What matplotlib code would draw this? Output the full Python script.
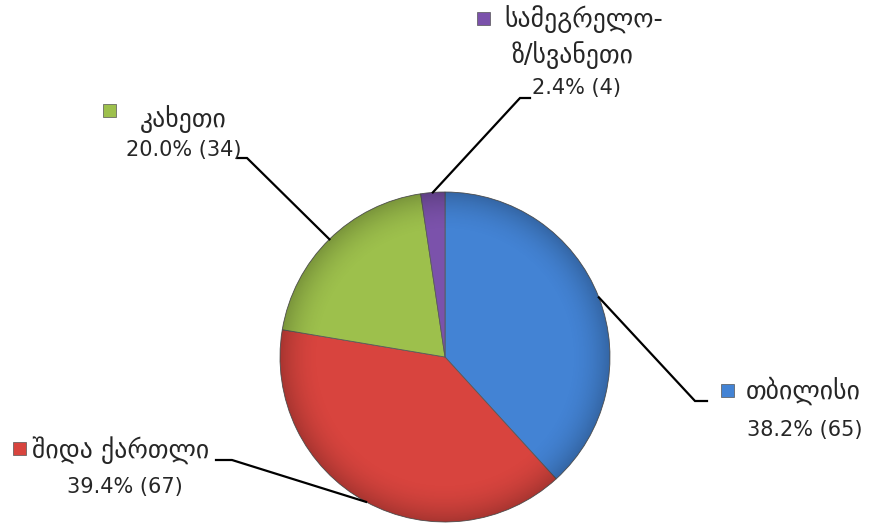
import matplotlib.pyplot as plt
from matplotlib.patches import Rectangle, Circle
import numpy as np

# data
names = ['თბილისი', 'შიდა ქართლი', 'კახეთი', 'სამეგრელო-\nზ/სვანეთი']
counts = [65, 67, 34, 4]
colors = ['#4383D4', '#D8443E', '#9DC04C', '#7B52AB']

W, H = 871, 523
cx, cy, R = 445, 357, 165   # pie centre / radius in pixels (from top)

# label layout (pixels from top): square, name lines, pct line, leader elbow and end
squares = [(727, 390), (19, 448), (109, 110), (483, 18)]
name_pos = [[(746, 391, 'left')], [(32, 451, 'left')], [(183, 119, 'center')],
            [(504, 20, 'left'), (573, 55, 'center')]]
pct_pos = [(805, 430), (125, 487), (184, 150), (576, 88)]
elbows = [(695, 401), (232, 460), (247, 158), (520, 98)]
ends = [(707, 401), (216, 460), (237, 158), (530, 98)]

fs = 15
fs_name = 18.5
txtc = '#262626'

fig = plt.figure(figsize=(W / 100, H / 100), dpi=100)
ax = fig.add_axes([0, 0, 1, 1])

wedges, _ = ax.pie(counts, colors=colors, startangle=90, counterclock=False,
                   center=(cx, H - cy), radius=R,
                   wedgeprops=dict(edgecolor='#5a5a5a', linewidth=0.6))

# soft shading: darker rim, lighter middle
n = 400
gx, gy = np.meshgrid(np.linspace(-1, 1, n), np.linspace(-1, 1, n))
rr = np.sqrt(gx ** 2 + gy ** 2)
shade = np.zeros((n, n, 4))
shade[..., 3] = np.clip((rr - 0.75) / 0.25, 0, 1) ** 2 * 0.22
im = ax.imshow(shade, extent=(cx - R, cx + R, H - cy - R, H - cy + R), zorder=3,
               interpolation='bilinear')
im.set_clip_path(Circle((cx, H - cy), R, transform=ax.transData))

total = sum(counts)
for i, w in enumerate(wedges):
    th = np.deg2rad((w.theta1 + w.theta2) / 2)
    px, py = cx + R * np.cos(th), (H - cy) + R * np.sin(th)
    ex, ey = elbows[i]
    nx, ny = ends[i]
    ax.plot([px, ex, nx], [py, H - ey, H - ny], color='black', lw=1.6,
            solid_joinstyle='miter', zorder=1)
    sx, sy = squares[i]
    ax.add_patch(Rectangle((sx - 6.5, H - sy - 6.5), 13, 13, facecolor=colors[i],
                           edgecolor='#555555', lw=0.5))
    lines = names[i].split('\n')
    for (tx, ty, ha), s in zip(name_pos[i], lines):
        ax.text(tx, H - ty, s, fontsize=fs_name, color=txtc, ha=ha, va='center',
                family='DejaVu Sans')
    pct = counts[i] / total * 100
    ax.text(pct_pos[i][0], H - pct_pos[i][1], f'{pct:.1f}% ({counts[i]})',
            fontsize=fs, color=txtc, ha='center', va='center')

ax.set_xlim(0, W)
ax.set_ylim(0, H)
ax.set_aspect('equal')
ax.axis('off')
fig.savefig('out.png', dpi=100, facecolor='white')
